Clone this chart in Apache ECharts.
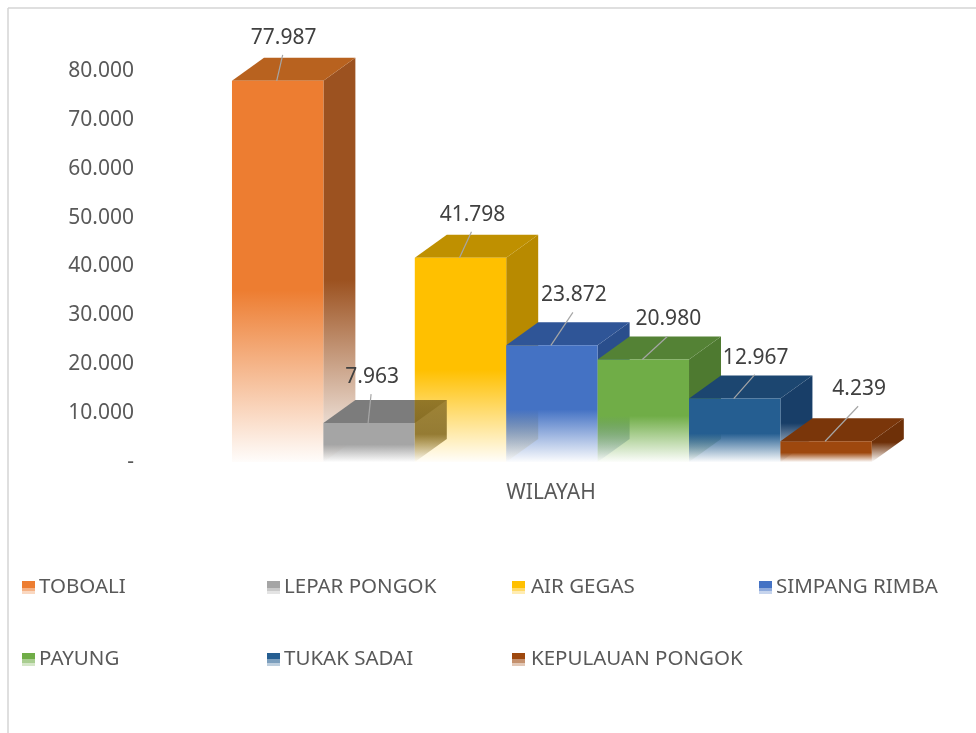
<!DOCTYPE html>
<html>
<head>
<meta charset="utf-8">
<style>html,body{margin:0;padding:0;background:#fff}#c{width:976px;height:733px}</style>
<script src="https://cdn.jsdelivr.net/npm/echarts@6/dist/echarts.min.js"></script>
</head>
<body>
<div id="c"></div>
<script>
var categories = ['WILAYAH'];
var seriesNames = ['TOBOALI', 'LEPAR PONGOK', 'AIR GEGAS', 'SIMPANG RIMBA', 'PAYUNG', 'TUKAK SADAI', 'KEPULAUAN PONGOK'];
var seriesValues = [77987, 7963, 41798, 23872, 20980, 12967, 4239];
var yTicks = [0, 10000, 20000, 30000, 40000, 50000, 60000, 70000, 80000];

var frontRGB = ['237,125,49', '165,165,165', '255,192,0', '68,114,196', '112,173,71', '37,94,145', '158,72,14'];
var topRGB = ['184,98,31', '124,124,124', '191,144,0', '47,85,151', '84,130,53', '28,70,112', '122,54,10'];
var sideRGB = ['156,82,32', '122,100,40', '184,138,0', '42,78,140', '78,122,48', '24,62,104', '110,48,8'];
var legendLeft = [22, 267, 512, 759, 22, 267, 512];
var legendTop = [577, 577, 577, 577, 649, 649, 649];
var legendTextGap = [-1, -1, 1, -1, -1, -1, 1];
// leader line top end relative to the centre of the bar's front top edge
var leaderDX = [5, 2, 11, 21, 24, 20, 32];
var leaderDY = [-26, -29, -26, -33, -23, -24, -35];

var FONT = '"Noto Sans", sans-serif';
var BAR_FRACTION = 0.1112, START = -0.3881, DEPTH_X = 32, DEPTH_Y = 23;

function fmt(v) { return v === 0 ? '-' : String(v).replace(/\B(?=(\d{3})+$)/g, '.'); }
function fade(rgb, solidUntil, endAlpha) {
  return { type: 'linear', x: 0, y: 0, x2: 0, y2: 1, colorStops: [
    { offset: 0, color: 'rgba(' + rgb + ',1)' },
    { offset: solidUntil, color: 'rgba(' + rgb + ',1)' },
    { offset: 1, color: 'rgba(' + rgb + ',' + endAlpha + ')' }
  ]};
}
function stripes(rgb) {
  return { type: 'linear', x: 0, y: 0, x2: 0, y2: 1, colorStops: [
    { offset: 0, color: 'rgb(' + rgb + ')' }, { offset: 0.5, color: 'rgb(' + rgb + ')' },
    { offset: 0.5, color: 'rgba(' + rgb + ',0.6)' }, { offset: 0.75, color: 'rgba(' + rgb + ',0.6)' },
    { offset: 0.75, color: 'rgba(' + rgb + ',0.3)' }, { offset: 1, color: 'rgba(' + rgb + ',0.3)' }
  ]};
}

function renderBar(i) {
  return function (params, api) {
    var band = api.size([1, 0])[0];
    var base = api.coord([0, 0]);
    var tp = api.coord([0, api.value(1)]);
    var w = band * BAR_FRACTION;
    var x = base[0] + band * START + i * w;
    var yt = tp[1], yb = base[1];
    var cx = x + w / 2;
    var lx = cx + leaderDX[i], ly = yt + leaderDY[i];
    var overlay = i === 1;
    var z = 10 + i * 3;
    var sidePts = overlay
      ? [[x + w, yt - DEPTH_Y], [x + w + DEPTH_X, yt - DEPTH_Y], [x + w + DEPTH_X, yb - DEPTH_Y], [x + w, yb]]
      : [[x + w, yt], [x + w + DEPTH_X, yt - DEPTH_Y], [x + w + DEPTH_X, yb - DEPTH_Y], [x + w, yb]];
    var sideFill = overlay
      ? { type: 'linear', x: 0, y: 0, x2: 0, y2: 1, colorStops: [
          { offset: 0, color: 'rgba(122,100,40,0.72)' },
          { offset: 0.55, color: 'rgba(122,95,20,0.8)' },
          { offset: 1, color: 'rgba(122,95,20,0)' }] }
      : fade(sideRGB[i], 0.55, 0);
    return {
      type: 'group',
      children: [
        { type: 'polygon', z2: overlay ? 60 : z, shape: { points: sidePts }, style: { fill: sideFill }, silent: true },
        { type: 'polygon', z2: z + 1, shape: { points: [[x, yt], [x + DEPTH_X, yt - DEPTH_Y], [x + w + DEPTH_X, yt - DEPTH_Y], [x + w, yt]] }, style: { fill: 'rgb(' + topRGB[i] + ')' }, silent: true },
        { type: 'rect', z2: z + 2, shape: { x: x, y: yt, width: w, height: yb - yt }, style: { fill: fade(frontRGB[i], 0.55, 0.02) }, silent: true },
        { type: 'line', z2: 70, shape: { x1: lx, y1: ly, x2: cx - 1, y2: yt }, style: { stroke: '#a6a6a6', lineWidth: 1.2 }, silent: true },
        { type: 'text', z2: 71, style: { text: fmt(api.value(1)), x: lx + 1, y: ly - 17, align: 'center', verticalAlign: 'middle', fill: '#404040', font: '21px ' + FONT }, silent: true }
      ]
    };
  };
}

var chart = echarts.init(document.getElementById('c'), null, { renderer: 'canvas' });
chart.setOption({
  animation: false,
  backgroundColor: '#fff',
  graphic: [
    { type: 'line', shape: { x1: 8, y1: 8, x2: 976, y2: 8 }, style: { stroke: '#d4d4d4', lineWidth: 1.5 }, silent: true },
    { type: 'line', shape: { x1: 8, y1: 8, x2: 8, y2: 733 }, style: { stroke: '#d4d4d4', lineWidth: 1.5 }, silent: true }
  ],
  grid: { left: 140, right: 14, top: 71, bottom: 271 },
  xAxis: {
    type: 'category', data: categories,
    axisLine: { show: false }, axisTick: { show: false },
    axisLabel: { color: '#595959', fontFamily: FONT, fontSize: 21, margin: 21 }
  },
  yAxis: {
    type: 'value', min: yTicks[0], max: yTicks[yTicks.length - 1], interval: yTicks[1] - yTicks[0],
    splitLine: { show: false }, axisLine: { show: false }, axisTick: { show: false },
    axisLabel: { color: '#595959', fontFamily: FONT, fontSize: 21, margin: 6, padding: [3, 0, 0, 0], formatter: fmt }
  },
  legend: seriesNames.map(function (n, i) {
    return {
      left: legendLeft[i], top: legendTop[i], padding: 0, itemWidth: 13, itemHeight: 13, itemGap: 0,
      selectedMode: false, icon: 'rect',
      textStyle: { color: '#595959', fontFamily: FONT, fontSize: 20.5, padding: [0, 0, 0, legendTextGap[i]] },
      data: [{ name: n, itemStyle: { color: stripes(frontRGB[i]) } }]
    };
  }),
  series: seriesNames.map(function (n, i) {
    return {
      type: 'custom', name: n, clip: false,
      encode: { x: 0, y: 1 },
      data: [[0, seriesValues[i]]],
      itemStyle: { color: 'rgb(' + frontRGB[i] + ')' },
      renderItem: renderBar(i)
    };
  })
});
</script>
</body>
</html>
